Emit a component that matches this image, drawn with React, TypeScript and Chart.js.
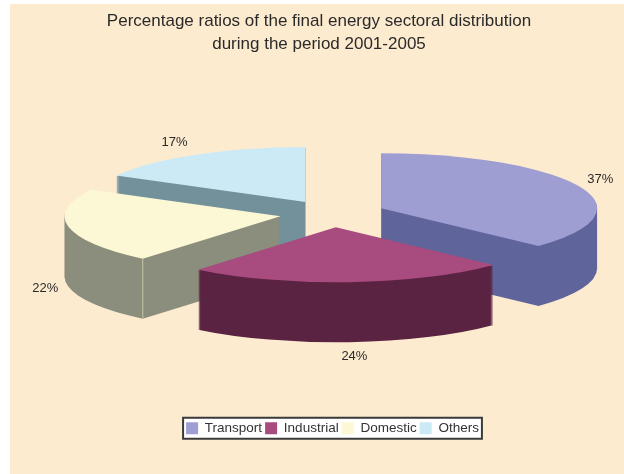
import React, { useEffect, useRef } from "react";
import { Chart, registerables } from "chart.js";

Chart.register(...registerables);

const categories = ["Transport", "Industrial", "Domestic", "Others"];
const shares = [37, 24, 22, 17];
const topColors = ["#9E9ED3", "#A84B7F", "#FCF7D5", "#CBEAF6"];
const wallColors = ["#5F659B", "#5B2342", "#8B8E7C", "#72919A"];
const titleLines = [
  "Percentage ratios of the final energy sectoral distribution",
  "during the period 2001-2005",
];

const FONT = "'Liberation Sans', Arial, sans-serif";
const TEXT = "#2a2a2a";

// Look of the tilted pie.
const TILT = 0.255;
const DEPTH = 60;
const EXPLODE = 53;
const RADIUS = 216;
const CENTER_Y = 209.7;
const PAINT_ORDER = [3, 0, 2, 1];
const LABEL_NUDGE = [
  [21, -7],
  [5, 74],
  [-23, 62],
  [-21, -12],
];

// Adds one flattened wedge to the current path, dy pixels below the top face.
function addWedge(ctx: CanvasRenderingContext2D, arc: any, dy: number) {
  const mid = (arc.startAngle + arc.endAngle) / 2;
  const x = arc.x + Math.cos(mid) * EXPLODE;
  const y = arc.y + Math.sin(mid) * EXPLODE;
  ctx.save();
  ctx.translate(arc.x, CENTER_Y + dy);
  ctx.scale(1, TILT);
  ctx.translate(-arc.x, -arc.y);
  ctx.moveTo(x, y);
  ctx.arc(x, y, arc.outerRadius, arc.startAngle, arc.endAngle);
  ctx.closePath();
  ctx.restore();
}

// Replaces the flat arcs with extruded, exploded wedges seen from above.
const solidPie = {
  id: "solidPie",
  beforeDraw(chart: any) {
    const { ctx, legend } = chart;
    const boxes = legend.legendHitBoxes;
    const left = Math.min(...boxes.map((b: any) => b.left)) - 3;
    const last = boxes[boxes.length - 1];
    const right = last.left + last.width + 3;
    const top = boxes[0].top + boxes[0].height / 2 - 10.5;
    ctx.save();
    ctx.fillStyle = "#ffffff";
    ctx.strokeStyle = "#3a3a3a";
    ctx.lineWidth = 2;
    ctx.fillRect(left, top, right - left, 21);
    ctx.strokeRect(left, top, right - left, 21);
    ctx.restore();
  },
  afterLayout(chart: any) {
    // The heading sits a little left of the pie and legend.
    chart.titleBlock.left -= 13.5;
    chart.titleBlock.right -= 13.5;
  },
  beforeDatasetsDraw(chart: any) {
    const { ctx } = chart;
    const arcs = chart.getDatasetMeta(0).data;
    for (const i of PAINT_ORDER) {
      const arc = arcs[i];
      // All layers of the wall go into one path so that a single fill covers them.
      ctx.fillStyle = wallColors[i];
      ctx.beginPath();
      for (let d = DEPTH; d > 0; d -= 1) addWedge(ctx, arc, d);
      ctx.fill();
      ctx.fillStyle = topColors[i];
      ctx.beginPath();
      addWedge(ctx, arc, 0);
      ctx.fill();
      if (categories[i] === "Domestic") {
        const mid = (arc.startAngle + arc.endAngle) / 2;
        const ex = arc.x + Math.cos(mid) * EXPLODE + Math.cos(arc.startAngle) * arc.outerRadius;
        const ey =
          CENTER_Y +
          (Math.sin(mid) * EXPLODE + Math.sin(arc.startAngle) * arc.outerRadius) * TILT;
        ctx.save();
        ctx.strokeStyle = "#C9C4A8";
        ctx.lineWidth = 1;
        ctx.beginPath();
        ctx.moveTo(ex, ey);
        ctx.lineTo(ex, ey + DEPTH);
        ctx.stroke();
        ctx.restore();
      }
    }
    ctx.save();
    ctx.fillStyle = TEXT;
    ctx.font = `13px ${FONT}`;
    ctx.textAlign = "center";
    ctx.textBaseline = "middle";
    arcs.forEach((arc: any, i: number) => {
      const mid = (arc.startAngle + arc.endAngle) / 2;
      const reach = EXPLODE + arc.outerRadius;
      const x = arc.x + Math.cos(mid) * reach + LABEL_NUDGE[i][0];
      const y = CENTER_Y + Math.sin(mid) * reach * TILT + LABEL_NUDGE[i][1];
      ctx.fillText(`${shares[i]}%`, x, y);
    });
    ctx.restore();
    return false;
  },
};

export default function App() {
  const ref = useRef<HTMLCanvasElement>(null);
  useEffect(() => {
    const chart = new Chart(ref.current as HTMLCanvasElement, {
      type: "pie",
      data: {
        labels: categories,
        datasets: [{ data: shares, backgroundColor: topColors, borderWidth: 0, radius: RADIUS }],
      },
      options: {
        animation: false,
        responsive: false,
        layout: { padding: { left: 31, bottom: 29 } },
        plugins: {
          title: {
            display: true,
            text: titleLines,
            color: TEXT,
            font: { family: FONT, size: 17, weight: "normal", lineHeight: 1.36 },
            padding: { top: 6, bottom: 0 },
          },
          legend: {
            position: "bottom",
            labels: {
              boxWidth: 12,
              boxHeight: 12,
              padding: 3,
              color: "#333333",
              font: { family: FONT, size: 13.5 },
            },
          },
          tooltip: { enabled: false },
        },
      },
      plugins: [solidPie],
    } as any);
    return () => chart.destroy();
  }, []);
  return (
    <div
      style={{
        position: "fixed",
        left: 10,
        top: 4,
        width: 614,
        height: 470,
        background: "#FDEBD0",
      }}
    >
      <canvas ref={ref} width={614} height={470} style={{ display: "block" }} />
    </div>
  );
}
